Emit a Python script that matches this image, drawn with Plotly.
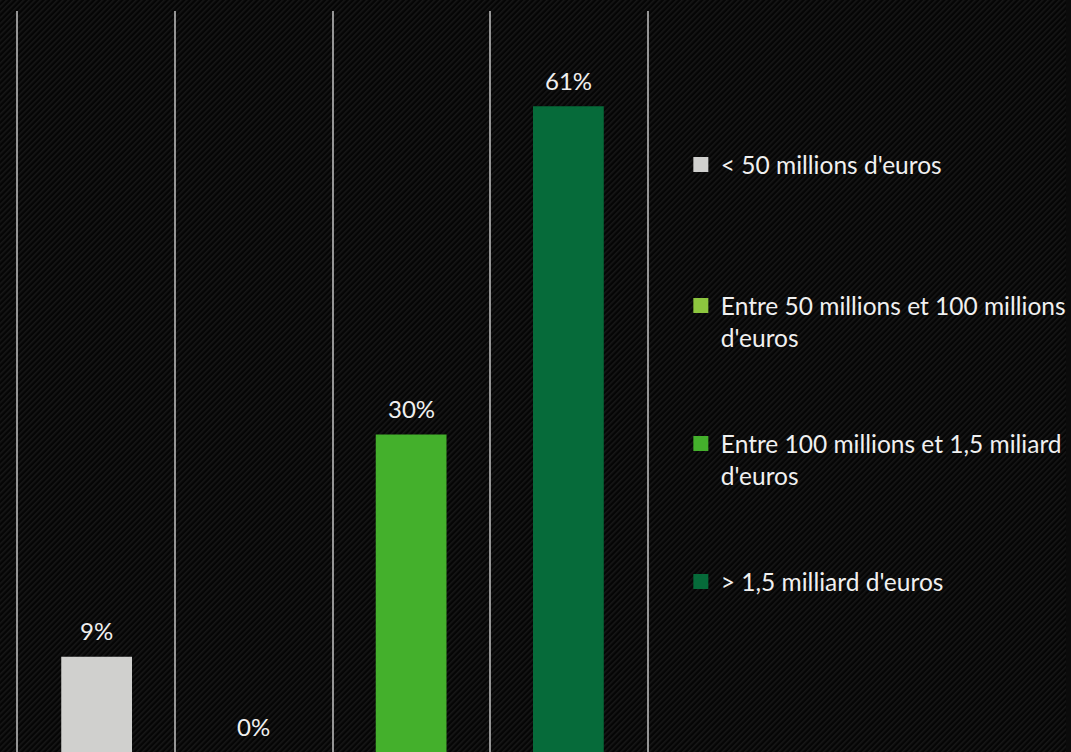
import base64
import plotly.graph_objects as go

# ---- data ----
categories = ["< 50 millions d'euros",
              "Entre 50 millions et 100 millions<br>d'euros",
              "Entre 100 millions et 1,5 miliard<br>d'euros",
              "> 1,5 milliard d'euros"]
colors = ["#d0d0ce", "#8dc63f", "#44b02c", "#066b3a"]
bar_order = [0, 1, 2, 3]
bar_values = [9, 0, 30, 61]
bar_labels = ["9%", "0%", "30%", "61%"]
bar_series = [0, 1, 2, 3]

W, H = 1071, 752
ML, MR, MT, MB = 18, 421, 11, 0
PW, PH = W - ML - MR, H - MT - MB

FONT = "Lato"
TXT = "#f0f0f0"
GRID = "#959595"

fig = go.Figure()

legend_names = ["legend", "legend2", "legend3", "legend4"]
for i, s in enumerate(bar_series):
    fig.add_trace(go.Bar(
        x=[bar_order[i]], y=[bar_values[i]],
        name=categories[s],
        marker=dict(color=colors[s], line=dict(width=0)),
        width=0.45,
        showlegend=False,
        hoverinfo="skip",
    ))
    # legend entry with a larger square swatch
    fig.add_trace(go.Scatter(
        x=[None], y=[None], mode="markers",
        name=categories[s],
        marker=dict(symbol="square", size=15, color=colors[s], line=dict(width=0)),
        legend=legend_names[s],
        hoverinfo="skip",
    ))
    fig.add_annotation(
        x=bar_order[i], y=bar_values[i], xref="x", yref="y",
        text=bar_labels[i], showarrow=False,
        yanchor="middle", yshift=26,
        font=dict(family=FONT, size=24, color=TXT),
    )

# background carbon-like diagonal texture
svg = ("<svg xmlns='http://www.w3.org/2000/svg' width='1071' height='752'>"
       "<defs><pattern id='p' width='4' height='4' patternUnits='userSpaceOnUse' "
       "patternTransform='rotate(45)'><rect width='4' height='4' fill='#050505'/>"
       "<rect width='1.6' height='4' fill='#171717'/></pattern></defs>"
       "<rect width='100%' height='100%' fill='url(#p)'/></svg>")
src = "data:image/svg+xml;base64," + base64.b64encode(svg.encode()).decode()
fig.add_layout_image(
    source=src, xref="paper", yref="paper",
    x=-ML / PW, y=1 + MT / PH, sizex=W / PW, sizey=H / PH,
    xanchor="left", yanchor="top", sizing="stretch", layer="below",
)

def lx(px):
    return (px - ML) / PW

def ly(py):
    return 1 - (py - MT) / PH

leg_centers = [164, 305, 443, 581]
common = dict(font=dict(family=FONT, size=24.5, color=TXT), bgcolor="rgba(0,0,0,0)",
              borderwidth=0, xanchor="left", yanchor="top", valign="top",
              itemsizing="trace", itemclick=False, itemdoubleclick=False)
fig.update_layout(
    legend=dict(x=lx(684), y=ly(leg_centers[0] - 22), **common),
    legend2=dict(x=lx(684), y=ly(leg_centers[1] - 22), **common),
    legend3=dict(x=lx(684), y=ly(leg_centers[2] - 22), **common),
    legend4=dict(x=lx(684), y=ly(leg_centers[3] - 22), **common),
)

fig.update_layout(
    width=W, height=H,
    margin=dict(l=ML, r=MR, t=MT, b=MB, pad=0),
    paper_bgcolor="#0b0b0b",
    plot_bgcolor="rgba(0,0,0,0)",
    barmode="overlay",
    showlegend=True,
    xaxis=dict(range=[-0.5, 3.5], tickvals=[-0.5, 0.5, 1.5, 2.5, 3.5],
               showticklabels=False, ticks="", showgrid=True,
               gridcolor=GRID, gridwidth=2, zeroline=False, showline=False,
               fixedrange=True),
    yaxis=dict(range=[0, 70], showgrid=False, showticklabels=False,
               zeroline=False, showline=True, mirror=True, linecolor=GRID,
               linewidth=2, ticks="", fixedrange=True),
)

fig.write_html("out.html")
